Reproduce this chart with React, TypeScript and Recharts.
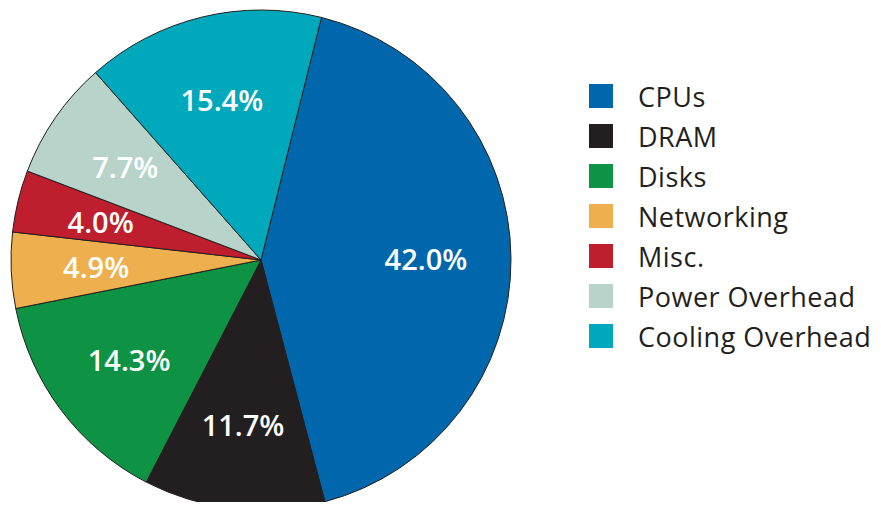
import { PieChart, Pie, Cell, Legend } from "recharts";

const categories = [
  "CPUs",
  "DRAM",
  "Disks",
  "Networking",
  "Misc.",
  "Power Overhead",
  "Cooling Overhead",
];
const shares = [42.0, 11.7, 14.3, 4.9, 4.0, 7.7, 15.4];
const colors = [
  "#0067ac",
  "#231f20",
  "#0e9345",
  "#eeb04f",
  "#be1e2d",
  "#b8d4ca",
  "#00a8bc",
];

const data = categories.map((name, i) => ({ name, value: shares[i] }));

const RADIAN = Math.PI / 180;
const FONT = "'Open Sans', 'Noto Sans', sans-serif";

const renderLabel = (props: any) => {
  const { cx, cy, midAngle, outerRadius, value } = props;
  const r = outerRadius * 0.66;
  const x = cx + r * Math.cos(-midAngle * RADIAN);
  const y = cy + r * Math.sin(-midAngle * RADIAN);
  return (
    <text
      x={x}
      y={y}
      fill="#ffffff"
      textAnchor="middle"
      dominantBaseline="central"
      fontSize={29}
      fontWeight={600}
      fontFamily={FONT}
    >
      {value.toFixed(1)}%
    </text>
  );
};

const renderLegend = () => (
  <div style={{ fontFamily: FONT, whiteSpace: "nowrap" }}>
    {categories.map((name, i) => (
      <div
        key={name}
        style={{ display: "flex", alignItems: "center", height: 40 }}
      >
        <span
          style={{
            width: 24,
            height: 24,
            background: colors[i],
            display: "inline-block",
            marginRight: 25,
          }}
        />
        <span style={{ fontSize: 27, letterSpacing: 0.5, color: "#231f20" }}>
          {name}
        </span>
      </div>
    ))}
  </div>
);

export default function App() {
  return (
    <div style={{ margin: -8, width: 881, height: 510, background: "#fff" }}>
      <PieChart
        width={881}
        height={510}
        margin={{ top: 0, right: 0, bottom: 0, left: 0 }}
      >
        <Pie
          data={data}
          dataKey="value"
          nameKey="name"
          cx={261}
          cy={260}
          outerRadius={250}
          startAngle={76}
          endAngle={-284}
          stroke="#231f20"
          strokeWidth={1}
          label={renderLabel}
          labelLine={false}
          isAnimationActive={false}
        >
          {data.map((d, i) => (
            <Cell key={d.name} fill={colors[i]} />
          ))}
        </Pie>
        <Legend
          content={renderLegend}
          wrapperStyle={{ left: 589, top: 76, width: 292 }}
        />
      </PieChart>
    </div>
  );
}
